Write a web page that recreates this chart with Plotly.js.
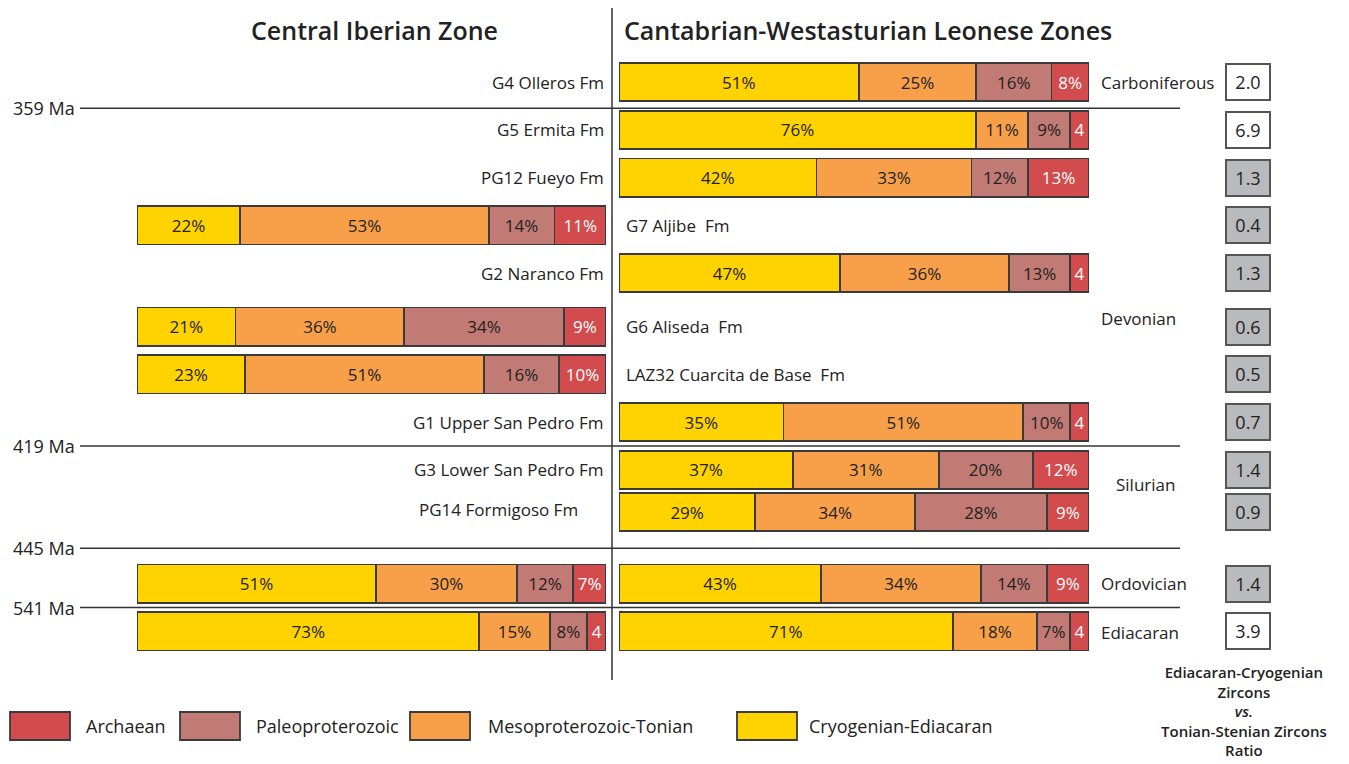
<!DOCTYPE html>
<html><head><meta charset="utf-8">
<script src="https://cdn.plot.ly/plotly-3.0.1.min.js"></script>
<style>html,body{margin:0;padding:0;background:#fff}#chart{width:1349px;height:764px}</style>
</head><body><div id="chart"></div>
<script>
// ---------- DATA ----------
const samples = ['G4 Olleros Fm','G5 Ermita Fm','PG12 Fueyo Fm','G7 Aljibe  Fm','G2 Naranco Fm','G6 Aliseda  Fm','LAZ32 Cuarcita de Base  Fm','G1 Upper San Pedro Fm','G3 Lower San Pedro Fm','PG14 Formigoso Fm','',''];
const categories = ['Cryogenian-Ediacaran','Mesoproterozoic-Tonian','Paleoproterozoic','Archaean'];
// Central Iberian Zone (left panel)
const ciz_cryo  = [null,null,null,22,null,21,23,null,null,null,51,73];
const ciz_meso  = [null,null,null,53,null,36,51,null,null,null,30,15];
const ciz_paleo = [null,null,null,14,null,34,16,null,null,null,12,8];
const ciz_arch  = [null,null,null,11,null,9,10,null,null,null,7,4];
// Cantabrian-Westasturian Leonese Zones (right panel)
const cwl_cryo  = [51,76,42,null,47,null,null,35,37,29,43,71];
const cwl_meso  = [25,11,33,null,36,null,null,51,31,34,34,18];
const cwl_paleo = [16,9,12,null,13,null,null,10,20,28,14,7];
const cwl_arch  = [8,4,13,null,4,null,null,4,12,9,9,4];
// Ediacaran-Cryogenian vs Tonian-Stenian zircons ratio
const ratios = [2.0,6.9,1.3,0.4,1.3,0.6,0.5,0.7,1.4,0.9,1.4,3.9];
const periods = ['Carboniferous','Devonian','Silurian','Ordovician','Ediacaran'];
const boundaries = ['359 Ma','419 Ma','445 Ma','541 Ma'];
const panelTitles = ['Central Iberian Zone','Cantabrian-Westasturian Leonese Zones'];

// ---------- LAYOUT HELPERS ----------
const W = 1349, H = 764;
const px = v => v / W;
const py = v => 1 - v / H;
const rowPos = i => i + (i >= 5 && i <= 8 ? 0.12 : 0) + (i >= 10 ? 0.5 : 0);
const yRows = samples.map((_, i) => rowPos(i));
const colors = {
  'Cryogenian-Ediacaran': '#FFD300',
  'Mesoproterozoic-Tonian': '#F7A049',
  'Paleoproterozoic': '#C17B74',
  'Archaean': '#D24B4D'
};
const FONT = 'Open Sans, sans-serif';
const TXT = '#222222';
const lbl = v => v == null ? '' : (v < 5 ? String(v) : v + '%');

const leftSeries = [ciz_cryo, ciz_meso, ciz_paleo, ciz_arch];
const rightSeries = [cwl_cryo, cwl_meso, cwl_paleo, cwl_arch];
const traces = [];
function addPanel(series, xa) {
  series.forEach((vals, k) => {
    const cat = categories[k];
    traces.push({
      type: 'bar', orientation: 'h', name: cat,
      x: vals, y: yRows, xaxis: xa, yaxis: 'y',
      width: 0.8,
      marker: { color: colors[cat], line: { color: '#3a3a3a', width: 1.8 } },
      text: vals.map(lbl), textposition: 'inside', insidetextanchor: 'middle',
      textangle: 0, constraintext: 'none',
      textfont: { family: FONT, size: 17, color: cat === 'Archaean' ? '#ffffff' : TXT },
      hoverinfo: 'skip', showlegend: false, cliponaxis: false
    });
  });
}
addPanel(leftSeries, 'x');
addPanel(rightSeries, 'x2');

const shapes = [];
const annotations = [];

// titles
annotations.push({ xref: 'paper', yref: 'paper', x: px(375), y: py(30), text: panelTitles[0], showarrow: false,
  xanchor: 'center', yanchor: 'middle', font: { family: FONT, size: 25, color: TXT, weight: 600 } });
annotations.push({ xref: 'paper', yref: 'paper', x: px(622), y: py(30), text: panelTitles[1], showarrow: false,
  xanchor: 'left', yanchor: 'middle', font: { family: FONT, size: 25, color: TXT, weight: 600 } });

// divider
shapes.push({ type: 'line', xref: 'paper', yref: 'paper', x0: px(612), x1: px(612), y0: py(8), y1: py(680),
  line: { color: '#333', width: 1.5 } });

// boundaries
const boundaryY = [0.55, 7.62, 9.76, 11.0];
boundaries.forEach((b, i) => {
  shapes.push({ type: 'line', xref: 'paper', yref: 'y', x0: px(80), x1: px(1180), y0: boundaryY[i], y1: boundaryY[i],
    line: { color: '#333', width: 1.5 } });
  annotations.push({ xref: 'paper', yref: 'y', x: px(77), y: boundaryY[i], text: b, showarrow: false,
    xanchor: 'right', yanchor: 'middle', font: { family: FONT, size: 18, color: TXT } });
});

// sample labels
samples.forEach((s, i) => {
  if (!s) return;
  const leftHasBar = ciz_cryo[i] != null;
  annotations.push({ xref: 'paper', yref: 'y', x: leftHasBar ? px(624) : px(i === 9 ? 580 : 606), y: yRows[i] - (i === 9 ? 0.05 : 0),
    text: s, showarrow: false, xanchor: leftHasBar ? 'left' : 'right', yanchor: 'middle',
    font: { family: FONT, size: 17, color: TXT } });
});

// period labels
const periodY = [0, 4.94, 8.43, 10.5, 11.53];
const periodX = [1099, 1099, 1114, 1099, 1099];
periods.forEach((p, i) => {
  annotations.push({ xref: 'paper', yref: 'y', x: px(periodX[i]), y: periodY[i], text: p, showarrow: false,
    xanchor: 'left', yanchor: 'middle', font: { family: FONT, size: 17, color: TXT } });
});

// ratio boxes
ratios.forEach((r, i) => {
  annotations.push({ xref: 'paper', yref: 'y', x: px(1248), y: yRows[i], text: r.toFixed(1), showarrow: false,
    xanchor: 'center', yanchor: 'middle', width: 40, height: 32, borderpad: 1, borderwidth: 2,
    bordercolor: '#555', bgcolor: r >= 2 ? '#ffffff' : '#B9BABE',
    font: { family: FONT, size: 18, color: TXT } });
});

// legend
const legendItems = [
  { cat: 'Archaean', x0: 10, tx: 84 },
  { cat: 'Paleoproterozoic', x0: 180, tx: 254 },
  { cat: 'Mesoproterozoic-Tonian', x0: 410, tx: 486 },
  { cat: 'Cryogenian-Ediacaran', x0: 737, tx: 807 }
];
legendItems.forEach(it => {
  shapes.push({ type: 'rect', xref: 'paper', yref: 'paper', x0: px(it.x0), x1: px(it.x0 + 60), y0: py(712), y1: py(740),
    fillcolor: colors[it.cat], line: { color: '#3a3a3a', width: 1.8 } });
  annotations.push({ xref: 'paper', yref: 'paper', x: px(it.tx), y: py(726), text: it.cat, showarrow: false,
    xanchor: 'left', yanchor: 'middle', font: { family: FONT, size: 18, color: TXT } });
});

// ratio caption
annotations.push({ xref: 'paper', yref: 'paper', x: px(1244), y: py(711), showarrow: false,
  text: 'Ediacaran-Cryogenian<br>Zircons<br><i>vs.</i><br>Tonian-Stenian Zircons<br>Ratio',
  xanchor: 'center', yanchor: 'middle', align: 'center',
  font: { family: FONT, size: 15, color: TXT, weight: 600 } });

const layout = {
  width: W, height: H,
  margin: { l: 0, r: 0, t: 0, b: 0 },
  paper_bgcolor: '#fff', plot_bgcolor: 'rgba(0,0,0,0)',
  barmode: 'stack', showlegend: false,
  xaxis: { domain: [px(137), px(606)], range: [0, 100], visible: false, fixedrange: true },
  xaxis2: { domain: [px(619), px(1089)], range: [0, 100], visible: false, fixedrange: true },
  yaxis: { domain: [0, 1], range: [(H - 82) / 47.78, -82 / 47.78], visible: false, fixedrange: true },
  shapes, annotations,
  font: { family: FONT }
};
Plotly.newPlot('chart', traces, layout, { displayModeBar: false, staticPlot: true });
</script>
</body></html>
